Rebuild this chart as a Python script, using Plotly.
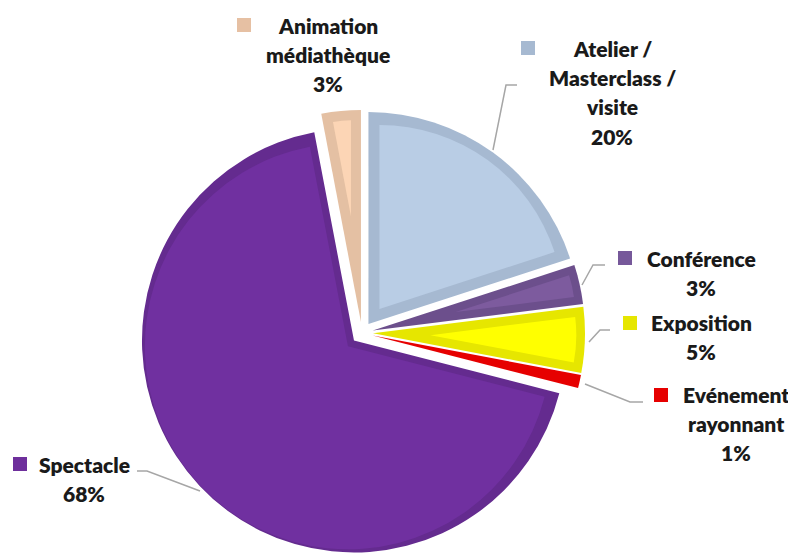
import math
import plotly.graph_objects as go

# The page body has an 8px margin, so the figure is drawn 8px in from the window edge.
WIN_W, WIN_H = 796, 553
OFF = 8
W, H = WIN_W - OFF, WIN_H - OFF

# ---- data ----
categories = ["Atelier / Masterclass / visite", "Conférence", "Exposition",
              "Evénement rayonnant", "Spectacle", "Animation médiathèque"]
values = [20, 3, 5, 1, 68, 3]
label_lines = [["Atelier /", "Masterclass /", "visite"], ["Conférence"], ["Exposition"],
               ["Evénement", "rayonnant"], ["Spectacle"], ["Animation", "médiathèque"]]

# ---- styles ----
fill_colors = ["#B9CDE5", "#7D5B9E", "#FFFF00", "#FF0000", "#7030A0", "#FCD5B5"]
border_colors = ["#A6B9D1", "#6C4F8C", "#E6E600", "#E60000", "#642B8F", "#E4C0A3"]
key_colors = ["#A6B9D1", "#76589A", "#E6E600", "#E60000", "#6E2F9C", "#E6C0A3"]
border_px = [11, 8, 9, 0, 7, 10]

# geometry in window pixels
CX, CY, R, PULL = 362.0, 333.0, 212.0, 11.0
FONT = "Lato"
FS = 21
TXT = "#1A1A1A"

# label layout (window pixels): center x, first baseline y, key square (left, top)
label_pos = [
    (612, 56, (521, 41)),
    (701, 266, (618, 251)),
    (701, 330, (623, 316)),
    (736, 402, (654, 388)),
    (84, 472, (13, 457)),
    (328, 33, (237, 18)),
]
LINE_H = 29.2
leaders = [
    [(517, 85), (506, 85), (493, 150)],
    [(605, 265), (593, 265), (582, 285)],
    [(610, 330), (600, 330), (589, 342)],
    [(643, 402), (630, 402), (585, 384)],
    [(137, 471), (147, 471), (200, 491)],
    None,
]


def px(x):
    return (x - OFF) / W


def py(y):
    return 1 - (y - OFF) / H


def dom(cx, cy, r):
    return dict(x=[px(cx - r), px(cx + r)], y=[py(cy + r), py(cy - r)])


fig = go.Figure()
total = sum(values)
n = len(values)
TR = "rgba(0,0,0,0)"

geo = []
cum = 0
for i, v in enumerate(values):
    a0 = cum / total * 360
    a1 = (cum + v) / total * 360
    cum += v
    mid = math.radians((a0 + a1) / 2)
    half = math.radians((a1 - a0) / 2)
    geo.append((math.sin(mid), -math.cos(mid), half))


def slice_trace(idx, color, cx, cy, r):
    cols = [TR] * n
    cols[idx] = color
    return go.Pie(values=values, labels=categories, sort=False, direction="clockwise",
                  rotation=0, marker=dict(colors=cols, line=dict(width=0)),
                  textinfo="none", hoverinfo="skip", showlegend=False,
                  domain=dom(cx, cy, r))


# outer (border-coloured) slices
for i in range(n):
    ux, uy, half = geo[i]
    fig.add_trace(slice_trace(i, border_colors[i], CX + PULL * ux, CY + PULL * uy, R))

# inner (fill-coloured) slices, inset by the border width
for i in range(n):
    b = border_px[i]
    if b <= 0:
        continue
    ux, uy, half = geo[i]
    delta = b / math.sin(half)
    r2 = R - b - delta * (1 + math.cos(half)) / 2
    if r2 < 5:
        continue
    off = PULL + delta
    fig.add_trace(slice_trace(i, fill_colors[i], CX + off * ux, CY + off * uy, r2))

annotations = []
shapes = []
for i in range(n):
    cx, base, (kx, ky) = label_pos[i]
    pct = f"{round(values[i] / total * 100)}%"
    lines = label_lines[i] + [pct]
    for j, t in enumerate(lines):
        yb = base + j * LINE_H
        annotations.append(dict(text=t, x=px(cx), y=py(yb - 7.5), xref="paper",
                                yref="paper", xanchor="center", yanchor="middle",
                                showarrow=False,
                                font=dict(family=FONT, size=FS, color=TXT, weight=800)))
    shapes.append(dict(type="rect", xref="paper", yref="paper", x0=px(kx), x1=px(kx + 14),
                       y0=py(ky + 14), y1=py(ky), fillcolor=key_colors[i], line=dict(width=0)))
    if leaders[i]:
        pts = leaders[i]
        path = "M " + " L ".join(f"{px(x):.5f},{py(y):.5f}" for x, y in pts)
        shapes.append(dict(type="path", xref="paper", yref="paper", path=path,
                           line=dict(color="#A6A6A6", width=1.5)))

fig.update_layout(width=W, height=H, margin=dict(l=0, r=0, t=0, b=0),
                  paper_bgcolor="white", plot_bgcolor="white", showlegend=False,
                  annotations=annotations, shapes=shapes)

fig.write_html("out.html")
